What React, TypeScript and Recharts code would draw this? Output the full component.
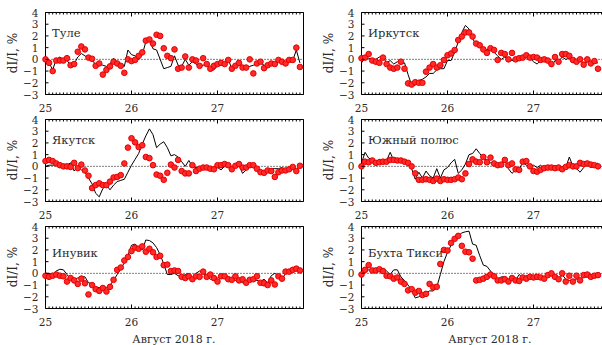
import React from "react";
import { ComposedChart, Line, XAxis, YAxis, ReferenceLine } from "recharts";

// axis ticks
const DAY_TICKS = [25, 26, 27];
const Y_TICKS = [-3, -2, -1, 0, 1, 2, 3, 4];
const HOUR_TICKS = Array.from({ length: 73 }, (_, i) => 25 + i / 24);

// hourly values from 25.08 00:00, dI/I in %
const thuleModel = [
  -0.1, -0.3, -0.9, 0.0, 0.2, 0.0, -0.1, -0.5, -0.4, 0.2,
  0.5, 0.3, 0.1, 0.0, -0.5, -0.4, -0.5, -0.6, -0.4, 0.1,
  -0.3, -0.5, -0.6, 0.8, 0.4, 0.3, 0.0, 0.4, 1.5, 1.6,
  0.9, 0.8, 0.0, -0.8, -0.7, -0.6, 0.3, -0.5, -0.6, 0.0,
  -0.5, -0.2, -0.4, -0.6, -0.5, -0.4, -1.0, -0.9, -0.5, -0.4,
  -0.5, 0.0, -0.8, -0.6, -0.3, -0.6, -0.7, -0.6, -0.5, -0.4,
  -0.3, -0.5, -0.6, -0.4, -0.3, -0.1, -0.2, -0.2, 0.0, -0.1,
  0.8, -0.3,
];
const thuleObs = [
  0.0, -0.3, -1.0, -0.1, -0.1, -0.1, 0.1, -0.5, -0.4, 0.65,
  1.1, 0.85, 0.15, 0.05, -0.55, -0.35, -1.3, -0.9, -0.6, -0.2,
  -0.35, -0.55, -1.15, 0.0, -0.15, -0.05, 0.3, 0.6, 1.6, 1.7,
  1.35, 2.1, 2.0, 0.95, 0.3, 0.1, 0.85, -0.8, -0.7, 0.25,
  -0.7, 0.0, -0.1, -0.55, 0.1, -0.4, -0.8, -0.55, -0.4, -0.3,
  -0.4, -0.05, -0.8, -0.55, -0.3, -0.7, -0.7, 0.0, -1.2, -0.35,
  -0.2, -0.75, -0.5, -0.35, -0.4, -0.05, -0.2, -0.35, -0.05, -0.05,
  1.0, -0.65,
];

const irkutskModel = [
  -0.3, 0.1, 0.1, 0.0, 0.0, 0.2, 0.2, -0.3, -0.1, -0.4,
  -0.2, -0.4, -0.3, -1.3, -2.2, -2.2, -1.8, -1.7, -1.5, -1.2,
  -1.2, -0.9, -0.8, -0.8, -0.1, -0.1, 0.6, 1.5, 2.3, 2.9,
  2.6, 1.8, 1.2, 1.4, 0.9, 0.8, 1.0, 0.6, 0.3, 0.0,
  0.2, 0.0, -0.1, -0.1, 0.0, 0.2, 0.2, 0.1, -0.2, -0.4,
  -0.1, 0.0, -0.2, -0.6, -0.1, -0.2, 0.2, 0.0, 0.1, -0.3,
  -0.2, 0.0, -0.4, -0.2, -0.2, -0.3, -0.3,
];
const irkutskObs = [
  0.1, 0.15, 0.45, -0.1, -0.2, -0.3, 0.15, -0.4, -0.7, -0.8,
  -0.7, -0.2, -0.8, -2.05, -2.15, -1.95, -2.0, -2.0, -1.05, -0.7,
  -0.4, -0.7, -0.5, -0.05, 0.35, 0.5, 0.8, 1.65, 1.95, 2.3,
  2.3, 1.95, 1.35, 1.2, 0.85, 0.55, 0.95, 0.8, -0.05, 0.55,
  0.45, 0.0, 0.55, 0.0, 0.1, 0.15, 0.35, 0.15, 0.2, 0.15,
  -0.05, 0.0, -0.1, -0.4, 0.2, -0.2, 0.45, 0.45, 0.3, -0.05,
  -0.2, 0.0, -0.45, 0.0, -0.35, -0.15, -0.8,
];

const yakutskModel = [
  0.0, 0.1, 0.1, 0.1, 0.1, 0.1, 0.1, 0.3, -0.4, 0.0,
  -0.3, -0.5, -1.0, -1.5, -2.3, -2.6, -1.9, -1.6, -2.0, -1.6,
  -1.3, -1.2, -1.1, -0.5, 0.1, 0.6, 1.1, 1.9, 2.6, 3.2,
  2.7, 1.6, 1.9, 2.1, 1.6, 0.9, 1.0, 0.8, 0.4, 0.0,
  0.5, 0.0, -0.1, -0.2, -0.2, -0.1, -0.2, -0.1, -0.1, -0.3,
  0.0, -0.1, -0.1, -0.1, 0.1, -0.6, -0.3, 0.0, -0.1, -0.2,
  -0.3, -0.4, -0.3, -0.2, -0.2, -0.2, -0.1, -0.4, -0.3, -0.1,
  -0.3, 0.0,
];
const yakutskObs = [
  0.45, 0.55, 0.45, 0.25, 0.1, 0.0, 0.0, -0.05, 0.3, -0.15,
  0.15, -0.35, -0.8, -1.85, -1.6, -1.45, -1.6, -1.6, -1.3, -0.95,
  -0.9, -0.75, 0.25, 1.6, 2.4, 2.05, 1.65, 1.8, 0.8, 0.7,
  0.1, -0.7, -0.8, -1.15, -0.55, 0.15, -0.1, 0.55, -0.4, -0.6,
  -0.6, 0.1, -0.4, -0.2, -0.1, -0.1, -0.2, -0.25, 0.1, 0.1,
  0.2, 0.1, -0.25, 0.05, 0.2, -0.1, -0.1, 0.1, 0.1, -0.2,
  -0.5, -0.55, -0.35, -0.4, -0.9, -0.5, -0.35, -0.35, -0.25, -0.05,
  -0.4, 0.05,
];

const southPoleModel = [
  0.3, 1.2, 0.7, 0.6, 0.4, 0.6, 0.4, 0.5, 1.2, 0.5,
  0.5, 0.4, 0.3, 0.2, -0.2, -1.1, -0.5, -1.0, -0.4, -0.8,
  -1.0, -0.2, -1.0, -0.3, -0.1, 0.3, 0.6, -0.6, -0.3, 0.2,
  1.0, 1.1, 1.5, 1.1, 0.7, 0.5, 0.3, 0.4, 0.1, 0.2,
  0.5, -0.2, -0.6, -0.3, -0.2, 0.3, 0.1, 0.0, 0.1, -0.1,
  0.1, -0.2, -0.1, -0.1, -0.1, 0.1, -0.3, -0.1, 0.8, 0.0,
  -0.2, -0.5, -0.1, 0.2, -0.1, 0.0, 0.3,
];
const southPoleObs = [
  0.0, 0.4, 0.35, 0.5, 0.3, 0.35, 0.4, 0.4, 0.55, 0.55,
  0.5, 0.5, 0.4, 0.3, 0.0, -0.6, -1.15, -1.15, -1.1, -1.15,
  -1.25, -1.05, -1.25, -1.1, -1.15, -1.15, -1.1, -0.95, -1.1, -0.6,
  0.2, 0.6, 0.4, 0.35, 0.8, 0.35, 0.75, 0.25, 0.1, 0.15,
  0.55, 0.1, 0.25, -0.25, -0.3, 0.4, 0.45, 0.0, -0.4, -0.45,
  -0.3, -0.15, -0.1, -0.1, -0.15, -0.1, -0.25, -0.05, 0.1, 0.0,
  0.0, 0.3, 0.2, 0.25, 0.15, 0.1, 0.0,
];

const inuvikModel = [
  0.0, 0.0, -0.1, 0.2, 0.35, 0.3, -0.1, -0.5, -0.5, -0.4,
  -0.25, -0.3, -0.8, -0.9, -1.2, -1.2, -1.3, -1.2, -1.0, -0.6,
  -0.1, 0.4, 0.9, 1.5, 2.4, 2.5, 2.2, 2.0, 2.85, 2.8,
  2.6, 2.2, 1.6, 0.8, -0.1, -0.1, 0.0, -0.2, -0.3, -0.1,
  0.0, -0.6, 0.0, 0.2, 0.0, -0.3, -0.5, -0.6, -0.4, -0.2,
  -0.2, -0.3, -0.4, -0.6, -0.6, -0.8, -0.9, -0.7, -0.6, -0.6,
  -0.7, -0.5, -0.8, -0.2, 0.0, -0.2, -0.5, 0.0, 0.2, 0.2,
  0.3, 0.1,
];
const inuvikObs = [
  -0.2, -0.3, -0.2, -0.1, -0.2, -0.25, -0.7, -0.4, -0.6, -0.9,
  -0.45, -0.85, -1.8, -1.0, -1.35, -1.5, -1.25, -1.55, -1.15, -0.55,
  0.3, 0.5, 1.1, 1.4, 1.9, 2.2, 2.1, 2.3, 1.85, 2.1,
  1.8, 1.4, 1.5, 0.7, 0.75, 0.2, 0.25, 0.2, -0.3, -0.4,
  -0.25, -0.5, -0.25, -0.3, 0.15, -0.3, -0.1, -0.4, -0.7, -0.25,
  -0.25, -0.5, -0.55, -0.25, -0.6, -0.5, -0.8, -0.55, -0.5, -0.25,
  -0.8, -0.85, -1.0, -0.6, -0.95, -0.25, -0.45, 0.15, 0.15, 0.3,
  0.4, 0.25,
];

const tiksiModel = [
  -0.1, 0.2, 0.3, 0.3, 0.3, 0.3, 0.4, 0.2, -0.1, 0.3,
  0.3, -0.3, -0.6, -1.0, -1.4, -2.1, -2.0, -1.8, -1.7, -1.5,
  -1.5, -1.2, -0.1, 1.0, 1.8, 2.4, 2.9, 3.2, 3.45, 3.55,
  3.6, 2.5, 2.4, 1.5, 0.7, 0.6, 0.2, -0.3, -0.5, -0.3,
  -0.3, -0.5, -0.6, -0.6, -0.1, -0.4, -0.2, -0.2, -0.4, -0.2,
  -0.3, -0.4, -0.1, -0.2, -0.5, -0.6, -0.1, -0.5, -0.6, -0.7,
  -0.5, -0.5, -0.3, -0.3, -0.3, -0.2, -0.2,
];
const tiksiObs = [
  -0.1, 0.3, 0.7, 0.25, 0.25, 0.35, 0.2, -0.2, -0.25, -0.45,
  -0.35, -0.7, -0.9, -1.45, -1.35, -1.65, -1.5, -1.85, -1.75, -0.9,
  -1.2, -1.15, 0.8, 2.0, 1.95, 2.6, 2.95, 3.2, 2.35, 1.85,
  1.8, 1.25, -0.6, -0.55, -0.45, -0.3, -0.1, -0.25, -0.6, -0.6,
  -0.5, -0.7, -0.4, -0.6, -0.65, -0.35, -0.45, -0.3, -0.35, -0.3,
  -0.35, -0.45, -0.15, 0.0, -0.3, -0.5, 0.0, -0.7, -0.2, -0.7,
  -0.2, -0.6, -0.15, -0.1, -0.3, -0.2, -0.15,
];

const FONT = "DejaVu Serif";
const TICK_FONT = 10.5;
const TEXT = "#2a2a2a";

const fmt = (v: number) => (v < 0 ? `\u2212${Math.abs(v)}` : `${v}`);
const isDay = (v: number) => Math.abs(v - Math.round(v)) < 1e-6;

const BottomTick = (p: any) => {
  const v = p.payload.value;
  const major = isDay(v);
  return (
    <g>
      <line x1={p.x} x2={p.x} y1={p.y} y2={p.y - (major ? 4 : 2)} stroke="#000" strokeWidth={1} />
      {major && DAY_TICKS.includes(Math.round(v)) && (
        <text x={p.x} y={p.y + 17} textAnchor="middle" fontSize={TICK_FONT} fontFamily={FONT} fill={TEXT}>
          {Math.round(v)}
        </text>
      )}
    </g>
  );
};

const TopTick = (p: any) => {
  const major = isDay(p.payload.value);
  return <line x1={p.x} x2={p.x} y1={p.y} y2={p.y + (major ? 4 : 2)} stroke="#000" strokeWidth={1} />;
};

const LeftTick = (p: any) => (
  <g>
    <line x1={p.x} x2={p.x + 3} y1={p.y} y2={p.y} stroke="#000" strokeWidth={1} />
    <text x={p.x - 7} y={p.y + 4} textAnchor="end" fontSize={TICK_FONT} fontFamily={FONT} fill={TEXT}>
      {fmt(p.payload.value)}
    </text>
  </g>
);

const RightTick = (p: any) => (
  <line x1={p.x} x2={p.x - 3} y1={p.y} y2={p.y} stroke="#000" strokeWidth={1} />
);

interface PanelProps {
  title: string;
  model: number[];
  obs: number[];
  left: number;
  top: number;
  titleY: number;
  xLabel?: boolean;
}

function Panel({ title, model, obs, left, top, titleY, xLabel }: PanelProps) {
  const data = model.map((m, i) => ({ t: 25 + i / 24, model: m, obs: obs[i] }));
  return (
    <div style={{ position: "absolute", left, top, width: 308, height: 124 }}>
      <ComposedChart width={308} height={107.5} data={data} margin={{ top: 0, right: 0, bottom: 0, left: 0 }}>
        <XAxis
          xAxisId="b"
          dataKey="t"
          type="number"
          domain={[25, 28]}
          ticks={HOUR_TICKS}
          interval={0}
          height={20}
          tickSize={0}
          tickMargin={0}
          tickLine={false}
          tick={BottomTick}
          axisLine={{ stroke: "#000" }}
        />
        <XAxis
          xAxisId="t"
          orientation="top"
          dataKey="t"
          type="number"
          domain={[25, 28]}
          ticks={HOUR_TICKS}
          interval={0}
          height={5.5}
          tickSize={0}
          tickMargin={0}
          tickLine={false}
          tick={TopTick}
          axisLine={{ stroke: "#000" }}
        />
        <YAxis
          yAxisId="l"
          type="number"
          domain={[-3, 4]}
          ticks={Y_TICKS}
          interval={0}
          width={45.5}
          tickSize={0}
          tickMargin={0}
          tickLine={false}
          tick={LeftTick}
          axisLine={{ stroke: "#000" }}
        />
        <YAxis
          yAxisId="r"
          orientation="right"
          type="number"
          domain={[-3, 4]}
          ticks={Y_TICKS}
          interval={0}
          width={4.5}
          tickSize={0}
          tickMargin={0}
          tickLine={false}
          tick={RightTick}
          axisLine={{ stroke: "#000" }}
        />
        <ReferenceLine xAxisId="b" yAxisId="l" y={0} stroke="#000" strokeWidth={1} strokeDasharray="1 2" />
        <Line
          xAxisId="b"
          yAxisId="l"
          dataKey="obs"
          stroke="none"
          dot={{ r: 2.8, fill: "#ff2a2a", stroke: "#e60000", strokeWidth: 1 }}
          isAnimationActive={false}
        />
        <Line
          xAxisId="b"
          yAxisId="l"
          dataKey="model"
          stroke="#000"
          strokeWidth={1}
          dot={false}
          isAnimationActive={false}
        />
      </ComposedChart>
      <div
        style={{
          position: "absolute",
          left: 52,
          top: titleY,
          fontFamily: FONT,
          fontSize: 11.5,
          color: TEXT,
          whiteSpace: "nowrap",
          lineHeight: 1,
        }}
      >
        {title}
      </div>
      <div
        style={{
          position: "absolute",
          left: 13,
          top: 46,
          transform: "translate(-50%, -50%) rotate(-90deg)",
          fontFamily: FONT,
          fontSize: 12,
          color: TEXT,
          whiteSpace: "nowrap",
          lineHeight: 1,
        }}
      >
        dI/I, %
      </div>
      {xLabel && (
        <div
          style={{
            position: "absolute",
            left: 174,
            top: 113,
            transform: "translateX(-50%)",
            fontFamily: FONT,
            fontSize: 11,
            color: TEXT,
            whiteSpace: "nowrap",
            lineHeight: 1,
          }}
        >
          Август 2018 г.
        </div>
      )}
    </div>
  );
}

export default function App() {
  return (
    <div
      style={{
        position: "absolute",
        left: 0,
        top: 0,
        width: 602,
        height: 345,
        overflow: "hidden",
        background: "#fff",
      }}
    >
      <Panel title="Туле" model={thuleModel} obs={thuleObs} left={0} top={7} titleY={21} />
      <Panel title="Иркутск" model={irkutskModel} obs={irkutskObs} left={316} top={7} titleY={21} />
      <Panel title="Якутск" model={yakutskModel} obs={yakutskObs} left={0} top={114} titleY={21} />
      <Panel title="Южный полюс" model={southPoleModel} obs={southPoleObs} left={316} top={114} titleY={21} />
      <Panel title="Инувик" model={inuvikModel} obs={inuvikObs} left={0} top={221} titleY={27} xLabel />
      <Panel title="Бухта Тикси" model={tiksiModel} obs={tiksiObs} left={316} top={221} titleY={27} xLabel />
    </div>
  );
}
